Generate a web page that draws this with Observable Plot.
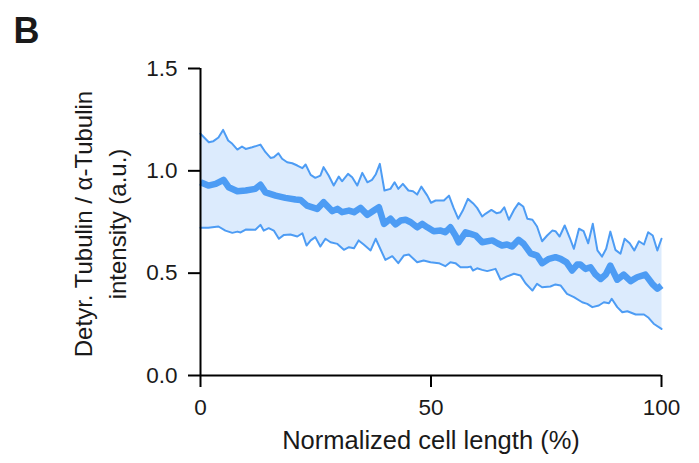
<!DOCTYPE html>
<html><head><meta charset="utf-8">
<script src="https://cdn.jsdelivr.net/npm/d3@7"></script>
<script src="https://cdn.jsdelivr.net/npm/@observablehq/plot@0.6"></script>
<style>body{margin:0;background:#fff}</style>
</head><body><div id="chart"></div>
<script>
const panelLabel = "B";
const xTitle = "Normalized cell length (%)";
const yTitle = "Detyr. Tubulin / α-Tubulin\nintensity (a.u.)";
const xTicks = [0, 50, 100];
const yTicks = [0, 0.5, 1.0, 1.5];

const upperX = [0,1.8,2.8,3.9,4.9,6.0,6.9,8.0,9.0,9.8,11.2,13.0,14.1,15.2,15.9,16.9,17.7,18.8,19.9,21.0,22.1,22.8,23.9,24.9,26.0,26.7,27.8,28.9,30.0,30.7,32.0,32.9,34.0,35.1,36.2,37.2,38.0,38.9,39.9,41.2,42.1,42.9,43.9,45.1,46.1,47.0,47.9,49.2,50.0,51.0,52.8,53.9,54.9,55.9,56.9,58.0,59.1,60.0,61.1,61.8,63.1,64.2,65.1,65.9,66.9,68.0,69.0,70.0,70.9,72.0,73.0,74.1,75.2,76.3,77.0,77.9,79.0,80.1,81.0,82.1,83.1,84.1,85.1,86.1,87.1,88.0,88.9,90.0,91.1,92.0,93.1,94.1,95.1,96.2,97.1,98.1,99.1,100];
const upperY = [1.181,1.140,1.145,1.163,1.200,1.148,1.132,1.104,1.119,1.107,1.115,1.128,1.091,1.063,1.066,1.086,1.059,1.042,1.037,1.026,1.013,1.031,0.980,0.966,0.977,1.018,0.977,0.928,0.972,0.949,0.985,0.969,0.928,0.990,0.944,0.956,0.982,1.034,0.904,0.912,0.944,0.912,0.936,0.904,0.900,0.884,0.923,0.879,0.844,0.855,0.855,0.879,0.819,0.766,0.806,0.863,0.842,0.819,0.777,0.790,0.809,0.793,0.798,0.822,0.761,0.809,0.842,0.826,0.766,0.761,0.728,0.656,0.684,0.708,0.705,0.679,0.733,0.673,0.619,0.717,0.705,0.646,0.741,0.611,0.581,0.619,0.703,0.614,0.595,0.668,0.646,0.611,0.656,0.640,0.700,0.684,0.611,0.668];

const meanX = [0,1.7,3.3,5.0,6.1,8.0,9.8,11.9,13.0,14.1,16.3,18.4,20.6,21.7,23.1,25.3,26.7,28.6,29.7,30.7,32.2,33.3,34.7,36.2,37.6,38.7,39.8,41.2,42.3,43.4,44.5,45.6,47.0,48.1,49.2,50.6,52.1,53.1,54.2,55.3,56.0,57.5,58.6,59.7,61.1,63.3,64.4,65.4,66.5,67.6,69.0,70.1,71.6,73.0,74.1,75.6,77.0,78.1,79.4,80.6,81.7,82.4,83.5,84.6,85.7,86.8,87.9,88.9,90.4,91.8,93.3,94.7,96.5,98.0,99.1,100];
const meanY = [0.944,0.928,0.936,0.956,0.920,0.900,0.904,0.912,0.932,0.895,0.879,0.868,0.860,0.858,0.830,0.814,0.847,0.803,0.814,0.798,0.806,0.798,0.819,0.785,0.806,0.822,0.741,0.766,0.738,0.757,0.761,0.749,0.724,0.741,0.724,0.705,0.708,0.700,0.724,0.684,0.651,0.700,0.692,0.684,0.651,0.660,0.646,0.635,0.640,0.630,0.663,0.643,0.597,0.586,0.549,0.570,0.578,0.570,0.553,0.513,0.542,0.542,0.521,0.529,0.493,0.472,0.493,0.537,0.468,0.493,0.461,0.480,0.493,0.448,0.424,0.440];

const lowerX = [0,1.7,3.9,5.4,6.9,8.0,8.7,9.8,11.9,13.0,13.7,14.8,15.9,17.0,18.1,19.5,21.0,22.1,23.0,23.9,24.9,26.0,27.1,28.2,29.7,31.1,32.2,33.3,34.3,35.4,36.9,38.0,40.1,41.6,42.9,44.1,45.2,47.0,48.4,49.9,51.7,53.1,54.2,55.3,56.4,57.9,58.6,59.1,60.0,61.1,62.2,64.0,65.1,66.5,68.0,69.4,70.5,72.0,73.0,74.1,75.9,77.0,78.1,79.5,81.0,82.8,83.9,85.0,86.4,87.5,88.6,89.2,90.4,91.5,92.6,94.4,96.2,97.2,98.3,100];
const lowerY = [0.722,0.722,0.728,0.708,0.697,0.703,0.699,0.713,0.712,0.736,0.708,0.720,0.708,0.668,0.687,0.689,0.679,0.695,0.635,0.660,0.676,0.630,0.668,0.651,0.643,0.614,0.627,0.622,0.660,0.640,0.611,0.668,0.565,0.583,0.549,0.586,0.591,0.553,0.562,0.553,0.549,0.534,0.553,0.549,0.529,0.529,0.532,0.513,0.524,0.516,0.510,0.521,0.468,0.484,0.497,0.489,0.451,0.415,0.448,0.431,0.435,0.445,0.440,0.399,0.383,0.358,0.350,0.334,0.342,0.358,0.353,0.375,0.334,0.309,0.314,0.298,0.298,0.282,0.253,0.228];

const toPts = (xs, ys) => xs.map((x, i) => ({x, y: ys[i]}));
const upper = toPts(upperX, upperY);
const mean = toPts(meanX, meanY);
const lower = toPts(lowerX, lowerY);
const band = upper.concat(lower.slice().reverse());

const LINE = "#4d9cf4";
const FILL = "#dcebfd";
const FONT = "'Liberation Sans', Arial, Helvetica, sans-serif";

const chart = Plot.plot({
  width: 699,
  height: 463,
  marginLeft: 200,
  marginRight: 38,
  marginTop: 68,
  marginBottom: 88,
  style: {fontFamily: FONT, background: "#fff", color: "#000", overflow: "visible"},
  x: {domain: [0, 100]},
  y: {domain: [0, 1.5]},
  marks: [
    Plot.line(band, {x: "x", y: "y", fill: FILL, stroke: "none"}),
    Plot.line(upper, {x: "x", y: "y", stroke: LINE, strokeWidth: 2, strokeLinejoin: "round"}),
    Plot.line(lower, {x: "x", y: "y", stroke: LINE, strokeWidth: 2, strokeLinejoin: "round"}),
    Plot.line(mean, {x: "x", y: "y", stroke: LINE, strokeWidth: 6.5, strokeLinejoin: "round", strokeLinecap: "butt"}),
    Plot.axisY({ticks: yTicks, tickFormat: d3.format(".1f"), tickSize: 12, tickPadding: 11, fontSize: 22.5, strokeWidth: 2, stroke: "#000", fill: "#1a1a1a", label: null}),
    Plot.axisX({ticks: xTicks, tickFormat: d3.format("d"), tickSize: 12, tickPadding: 12, fontSize: 22.5, strokeWidth: 2, stroke: "#000", fill: "#1a1a1a", label: null}),
    Plot.ruleX([0], {y1: 0, y2: 1.5, stroke: "#000", strokeWidth: 2}),
    Plot.ruleY([0], {x1: 0, x2: 100, stroke: "#000", strokeWidth: 2}),
    Plot.text([xTitle], {text: d => d, frameAnchor: "bottom", dy: 73, lineAnchor: "bottom", fontSize: 25.5, fill: "#1a1a1a"}),
    Plot.text([yTitle], {text: d => d, frameAnchor: "left", dx: -75, dy: 2, rotate: -90, lineAnchor: "bottom", textAnchor: "middle", lineHeight: 1.4, fontSize: 24, fill: "#1a1a1a"}),
    Plot.text([panelLabel], {text: d => d, frameAnchor: "top-left", dx: -187, dy: -26, textAnchor: "start", lineAnchor: "bottom", fontSize: 36, fontWeight: "bold", fill: "#1a1a1a"})
  ]
});
document.getElementById("chart").appendChild(chart);
</script>
</body></html>
